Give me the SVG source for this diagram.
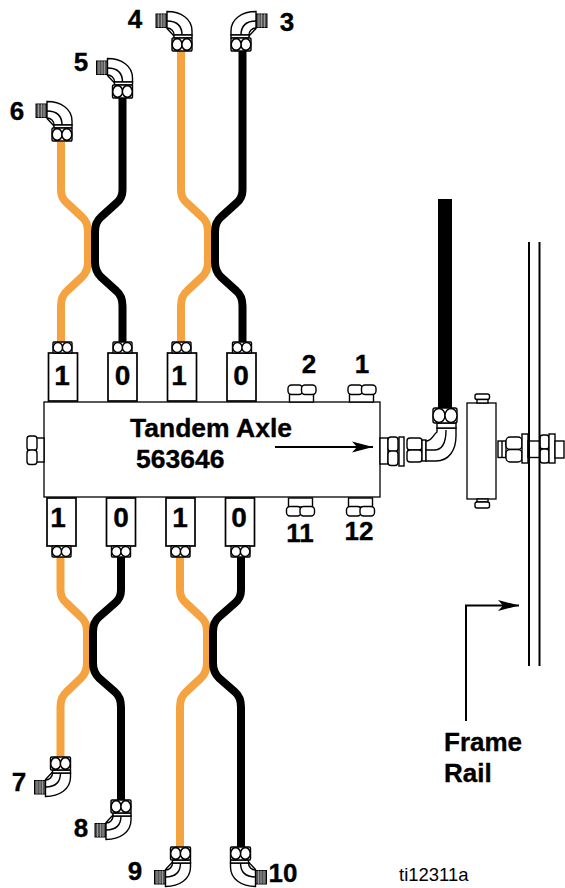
<svg xmlns="http://www.w3.org/2000/svg" width="565" height="888" viewBox="0 0 565 888">
<style>
text{font-family:"Liberation Sans",Arial,sans-serif;font-weight:bold;fill:#000;stroke:#000;stroke-width:.35}
.n{font-size:26px}.d{font-size:28px}.m{font-size:26.500px}.f{font-size:26px}
.o{fill:none;stroke:#f5a340;stroke-width:8;stroke-linejoin:round}
.b{fill:none;stroke:#000;stroke-width:8;stroke-linejoin:round}
.s{fill:#fff;stroke:#000;stroke-width:1.400}
.w{fill:#fff;stroke:#000;stroke-width:1.700}
.t{fill:#fff;stroke:#000;stroke-width:1.300}
.l{fill:none;stroke:#000;stroke-width:1.400}
.r{fill:none;stroke:#000;stroke-width:2}
</style>
<defs>
<g id="nut"><rect class="s" x="-9.500" y="-11" width="19" height="11" rx="1"/><ellipse class="s" cx="-4.600" cy="-5.500" rx="4.700" ry="5"/><ellipse class="s" cx="4.600" cy="-5.500" rx="4.700" ry="5"/></g>
<g id="lobesH"><rect class="s" x="-14" y="0" width="14.500" height="9.500" rx="3.500"/><rect class="s" x="-.5" y="0" width="14.500" height="9.500" rx="3.500"/></g>
<g id="lobesV"><rect class="s" x="0" y="-14" width="10" height="14.500" rx="3"/><rect class="s" x="0" y="0" width="10" height="14.500" rx="3"/></g>
<g id="elbow">
<rect x="-26" y="-37" width="11" height="13.500" fill="#555" stroke="#000"/>
<path d="M-23.500-37v13.500M-20.500-37v13.500M-18-37v13.500" stroke="#aaa" stroke-width=".8"/>
<path class="s" d="M-15-39.500V-22.500L-8-15V-16H10V-20C10-32-1-39.500-15-39.500Z"/>
<path class="l" d="M-15-30C-5-30 0-25 0-16M-15-23C-11-23-8-20-8-16"/>
<rect class="s" x="-8" y="-16" width="18" height="3"/>
<use href="#nut" transform="scale(1.050 1.180)"/>
</g>
<marker id="ah" markerWidth="22" markerHeight="12" refX="21" refY="6" orient="auto" markerUnits="userSpaceOnUse"><path d="M0 0.500L21 6L0 11.500L5 6Z"/></marker>
</defs>
<g id="connectors">
<path class="o" d="M61 142V190Q61 198 67 203L82 217Q88 222 88 232V262Q88 271 82 277L67 291Q61 296 61 306V343"/>
<path class="b" d="M122.500 97V190Q122.500 198 116.500 203L101 217Q95 222 95 232V262Q95 271 101 277L116.500 291Q122.500 296 122.500 306V343"/>
<path class="o" d="M181 50V190Q181 198 187 203L202 217Q208 222 208 232V262Q208 271 202 277L187 291Q181 296 181 306V343"/>
<path class="b" d="M242.500 50V190Q242.500 198 236.500 203L221 217Q215 222 215 232V262Q215 271 221 277L236.500 291Q242.500 296 242.500 306V343"/>
<path class="o" d="M60.500 556V590Q60.500 598 66.500 603L81 617Q87 622 87 632V663Q87 672 81 678L66.500 692Q60.500 697 60.500 707V757"/>
<path class="b" d="M121 556V590Q121 598 115 603L99 617Q93 622 93 632V663Q93 672 99 678L115 692Q121 697 121 707V800"/>
<path class="o" d="M180 556V590Q180 598 186 603L201 617Q207 622 207 632V663Q207 672 201 678L186 692Q180 697 180 707V847"/>
<path class="b" d="M241 556V590Q241 598 235 603L219 617Q213 622 213 632V663Q213 672 219 678L235 692Q241 697 241 707V847"/>
<path d="M445 199V410" fill="none" stroke="#000" stroke-width="14"/>
<path d="M466 721V605.500H519" class="r" marker-end="url(#ah)"/>
</g>
<g id="block">
<rect class="t" x="44" y="402" width="336" height="95"/>
<text class="m" x="130" y="437">Tandem Axle</text>
<text class="m" x="136" y="468">563646</text>
<path d="M275 447H373" class="r" marker-end="url(#ah)"/>
</g>
<g id="plug-left"><rect class="s" x="35" y="438" width="9" height="24"/><use href="#lobesV" x="27" y="450"/></g>
<g id="ports-top">
<g id="pt1"><rect class="w" x="48.500" y="353" width="29" height="48"/><use href="#nut" x="62.500" y="353"/><text class="d" x="62" y="385" text-anchor="middle">1</text></g>
<g id="pt2"><rect class="w" x="108" y="353" width="29" height="48"/><use href="#nut" x="122.500" y="353"/><text class="d" x="122.500" y="385" text-anchor="middle">0</text></g>
<g id="pt3"><rect class="w" x="167.500" y="353" width="29" height="48"/><use href="#nut" x="181.500" y="353"/><text class="d" x="179" y="385" text-anchor="middle">1</text></g>
<g id="pt4"><rect class="w" x="227" y="353" width="29" height="48"/><use href="#nut" x="242" y="353"/><text class="d" x="241" y="385" text-anchor="middle">0</text></g>
</g>
<g id="ports-bottom">
<g id="pb1"><rect class="w" x="47" y="498" width="29" height="48"/><use href="#nut" transform="translate(61.500 557)"/><text class="d" x="58" y="527" text-anchor="middle">1</text></g>
<g id="pb2"><rect class="w" x="106.500" y="498" width="29" height="48"/><use href="#nut" transform="translate(121 557)"/><text class="d" x="121" y="527" text-anchor="middle">0</text></g>
<g id="pb3"><rect class="w" x="166" y="498" width="29" height="48"/><use href="#nut" transform="translate(180.500 557)"/><text class="d" x="180" y="527" text-anchor="middle">1</text></g>
<g id="pb4"><rect class="w" x="225.500" y="498" width="29" height="48"/><use href="#nut" transform="translate(240.500 557)"/><text class="d" x="239" y="527" text-anchor="middle">0</text></g>
</g>
<g id="plugs">
<g id="p2"><rect class="s" x="289.500" y="393" width="24" height="9"/><use href="#lobesH" x="302" y="385"/><text class="n" x="309" y="373" text-anchor="middle">2</text></g>
<g id="p1"><rect class="s" x="349.500" y="393" width="24" height="9"/><use href="#lobesH" x="362" y="385"/><text class="n" x="362" y="373" text-anchor="middle">1</text></g>
<g id="p11"><rect class="s" x="288.500" y="498" width="24" height="9"/><use href="#lobesH" x="300.500" y="506.500"/><text class="n" x="300" y="542" text-anchor="middle">11</text></g>
<g id="p12"><rect class="s" x="348.500" y="498" width="24" height="9"/><use href="#lobesH" x="360.500" y="506.500"/><text class="n" x="359" y="540" text-anchor="middle">12</text></g>
</g>
<g id="e4"><use href="#elbow" transform="translate(182 51)"/><text class="n" x="135" y="28" text-anchor="middle">4</text></g>
<g id="e3"><use href="#elbow" transform="translate(241 51) scale(-1 1)"/><text class="n" x="287" y="31" text-anchor="middle">3</text></g>
<g id="e5"><use href="#elbow" transform="translate(122.500 98)"/><text class="n" x="81" y="71" text-anchor="middle">5</text></g>
<g id="e6"><use href="#elbow" transform="translate(62 141)"/><text class="n" x="17" y="120" text-anchor="middle">6</text></g>
<g id="e7"><use href="#elbow" transform="translate(60.500 757) scale(1 -1)"/><text class="n" x="19" y="791" text-anchor="middle">7</text></g>
<g id="e8"><use href="#elbow" transform="translate(121 800) scale(1 -1)"/><text class="n" x="81" y="837" text-anchor="middle">8</text></g>
<g id="e9"><use href="#elbow" transform="translate(180.500 847) scale(1 -1)"/><text class="n" x="135" y="880" text-anchor="middle">9</text></g>
<g id="e10"><use href="#elbow" transform="translate(240.500 847) scale(-1 -1)"/><text class="n" x="283" y="882" text-anchor="middle">10</text></g>
<g id="right-fitting">
<rect class="s" x="380" y="438" width="8" height="26"/>
<use href="#lobesV" x="388" y="451"/>
<rect class="s" x="399" y="437" width="5" height="29"/>
<rect class="s" x="407" y="438" width="15" height="12" rx="3"/>
<rect class="s" x="407" y="450" width="15" height="12" rx="3"/>
<rect class="s" x="422" y="440" width="4" height="21"/>
<path class="s" d="M426 461H436C449 461 456 450 456 436V428H437V432C432 436 432 441 426 441Z"/>
<path class="l" d="M426 450H434C442 450 446 443 446 430"/>
<rect class="s" x="437" y="423" width="19" height="5"/>
<rect class="s" x="433" y="408" width="24" height="15" rx="2"/>
<ellipse class="s" cx="439" cy="415.500" rx="6" ry="7"/>
<ellipse class="s" cx="451" cy="415.500" rx="6" ry="7"/>
</g>
<g id="valve">
<rect class="t" x="467" y="403" width="29" height="96"/>
<rect class="s" x="475" y="394" width="14.500" height="5.500" rx="2"/><rect class="s" x="477" y="399.500" width="11" height="3.500"/>
<rect class="s" x="477" y="499" width="11" height="3"/><rect class="s" x="475" y="502" width="14.500" height="6" rx="2"/>
<rect class="s" x="498" y="441" width="8" height="16.500"/><path class="l" d="M502 441V457.500"/>
<rect class="s" x="506" y="437" width="16" height="12.500" rx="4"/>
<rect class="s" x="506" y="449.500" width="16" height="12.500" rx="4"/>
<rect class="s" x="522" y="434" width="6" height="29"/>
<rect class="s" x="528" y="441" width="12" height="16.500"/>
<rect class="s" x="540" y="435" width="9" height="14" rx="3"/>
<rect class="s" x="540" y="449" width="9" height="14" rx="3"/>
<rect class="s" x="549" y="434" width="6" height="29"/>
<rect class="s" x="555" y="441" width="9" height="17"/>
</g>
<g id="frame-rail">
<path class="r" d="M529 242V666M539.500 242V666"/>
</g>
<g id="labels">
<text class="f" x="444" y="751">Frame</text>
<text class="f" x="444" y="782">Rail</text>
<text x="399" y="881" style="font-size:18.500px;font-weight:normal;stroke:none">ti12311a</text>
</g>
</svg>
